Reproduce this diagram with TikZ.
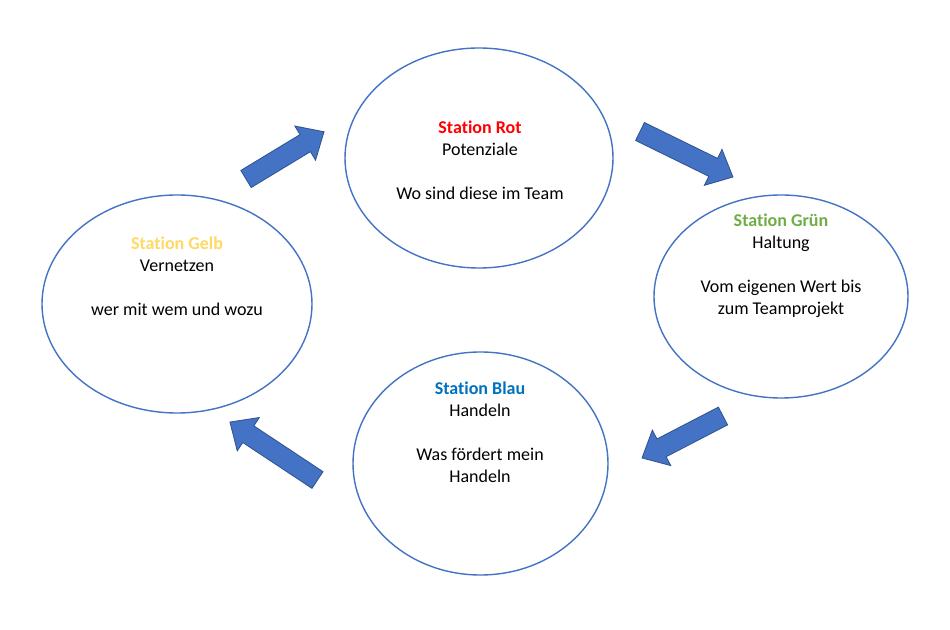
\documentclass[tikz,border=0pt]{standalone}
\usepackage{fontspec}
\setmainfont[Ligatures=NoCommon]{Carlito}
\usetikzlibrary{shapes.geometric}
\definecolor{ublue}{HTML}{4472C4}
\definecolor{dblue}{HTML}{2F528F}
\definecolor{cRot}{HTML}{FF0000}
\definecolor{cGruen}{HTML}{70AD47}
\definecolor{cBlau}{HTML}{0070C0}
\definecolor{cGelb}{HTML}{FFD966}
\tikzset{
  station/.style={ellipse, draw=ublue, line width=1.4pt, fill=white, inner sep=0pt},
  label/.style={align=center, font=\fontsize{18}{22}\selectfont, text=black},
  arrowstyle/.style={fill=ublue, draw=dblue, line width=0.8pt, line join=miter},
}
\newcommand{\blockarrow}[3]{%
  \begin{scope}[shift={(#1)},rotate=#2]
    \draw[arrowstyle] (0,-10)--(#3-22,-10)--(#3-22,-20)--(#3,0)--(#3-22,20)--(#3-22,10)--(0,10)--cycle;
  \end{scope}}
\begin{document}
\begin{tikzpicture}[x=1pt,y=1pt]
\useasboundingbox (0,0) rectangle (950,629);
\fill[white] (0,0) rectangle (950,629);
% ellipses
\node[station, minimum width=268pt, minimum height=220pt] (rot) at (479,471) {};
\node[station, minimum width=254pt, minimum height=203pt] (gruen) at (781,332.5) {};
\node[station, minimum width=255pt, minimum height=223pt] (blau) at (480.5,165.5) {};
\node[station, minimum width=270pt, minimum height=218pt] (gelb) at (177,325) {};
% texts
\node[label] (trot) at (480,468.5) {\textcolor{cRot}{\bfseries Station Rot}\\Potenziale\\[22pt]Wo sind diese im Team};
\node[label] (tgruen) at (781,363) {\textcolor{cGruen}{\bfseries Station Grün}\\Haltung\\[22pt]Vom eigenen Wert bis\\zum Teamprojekt};
\node[label] (tblau) at (480,196.5) {\textcolor{cBlau}{\bfseries Station Blau}\\Handeln\\[22pt]Was fördert mein\\Handeln};
\node[label] (tgelb) at (177,352.5) {\textcolor{cGelb}{\bfseries Station Gelb}\\Vernetzen\\[22pt]wer mit wem und wozu};
% block arrows
\blockarrow{246,450}{31.2}{91.2}
\blockarrow{640,497.5}{-26.1}{103.5}
\blockarrow{723,213}{207.4}{91.2}
\blockarrow{317.5,149}{146.5}{105}
\end{tikzpicture}
\end{document}
